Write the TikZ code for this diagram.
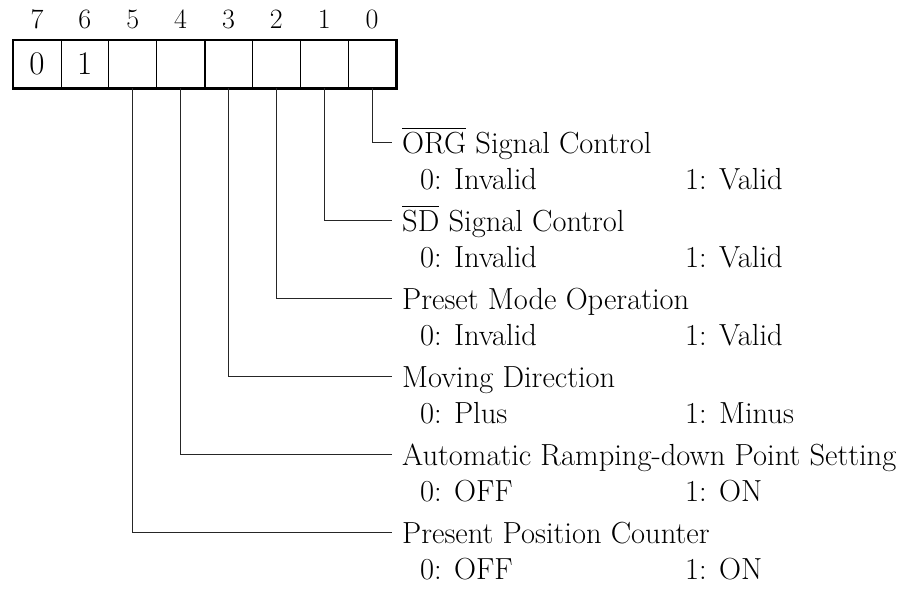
\documentclass[tikz,border=0pt]{standalone}
\usepackage{fontspec}
\usetikzlibrary{calc}
\begin{document}
\begin{tikzpicture}[x=1pt,y=-1pt,
  cell/.style={draw, line width=0.7pt, minimum width=47.875pt, minimum height=48pt, inner sep=0pt, font=\fontsize{33}{38}\selectfont},
  hdr/.style={anchor=base, inner sep=0pt, font=\fontsize{28}{32}\selectfont},
  ttl/.style={anchor=base west, inner sep=0pt, font=\fontsize{30.5}{36}\selectfont},
  val/.style={anchor=base west, inner sep=0pt, font=\fontsize{30.5}{36}\selectfont},
  conn/.style={draw=black!85, line width=0.8pt},
  thick border/.style={line width=2.3pt}]
\useasboundingbox (0,0) rectangle (907,590);
% cells
\node[cell] (c7) at ({13+47.875*0.5},64) {0};
\node[cell] (c6) at ({13+47.875*1.5},64) {1};
\node[cell] (c5) at ({13+47.875*2.5},64) {};
\node[cell] (c4) at ({13+47.875*3.5},64) {};
\node[cell] (c3) at ({13+47.875*4.5},64) {};
\node[cell] (c2) at ({13+47.875*5.5},64) {};
\node[cell] (c1) at ({13+47.875*6.5},64) {};
\node[cell] (c0) at ({13+47.875*7.5},64) {};
\draw[thick border] (c7.north west) rectangle (c0.south east);
\draw[thick border] (c4.north east) -- (c4.south east);
% header bit numbers
\foreach \b in {7,...,0}{
  \node[hdr] (h\b) at ($(c\b.north)+(0,-11)$) {\b};
}
% titles
\node[ttl] (t0) at (402,153) {$\overline{\mbox{ORG\rule{0pt}{0.78em}}}$ Signal Control};
\node[ttl] (t1) at (402,231) {$\overline{\mbox{SD\rule{0pt}{0.78em}}}$ Signal Control};
\node[ttl] (t2) at (402,309) {Preset Mode Operation};
\node[ttl] (t3) at (402,387) {Moving Direction};
\node[ttl] (t4) at (402,465) {Automatic Ramping-down Point Setting};
\node[ttl] (t5) at (402,543) {Present Position Counter};
% values
\node[val] (a0) at (420,189) {0: Invalid};
\node[val] (b0) at (685,189) {1: Valid};
\node[val] (a1) at (420,267) {0: Invalid};
\node[val] (b1) at (685,267) {1: Valid};
\node[val] (a2) at (420,345) {0: Invalid};
\node[val] (b2) at (685,345) {1: Valid};
\node[val] (a3) at (420,423) {0: Plus};
\node[val] (b3) at (685,423) {1: Minus};
\node[val] (a4) at (420,501) {0: OFF};
\node[val] (b4) at (685,501) {1: ON};
\node[val] (a5) at (420,579) {0: OFF};
\node[val] (b5) at (685,579) {1: ON};
% connectors
\foreach \b in {0,...,5}{
  \draw[conn] (c\b.south) |- ($(t\b.base west)+(-10,-11)$);
}
\end{tikzpicture}
\end{document}
